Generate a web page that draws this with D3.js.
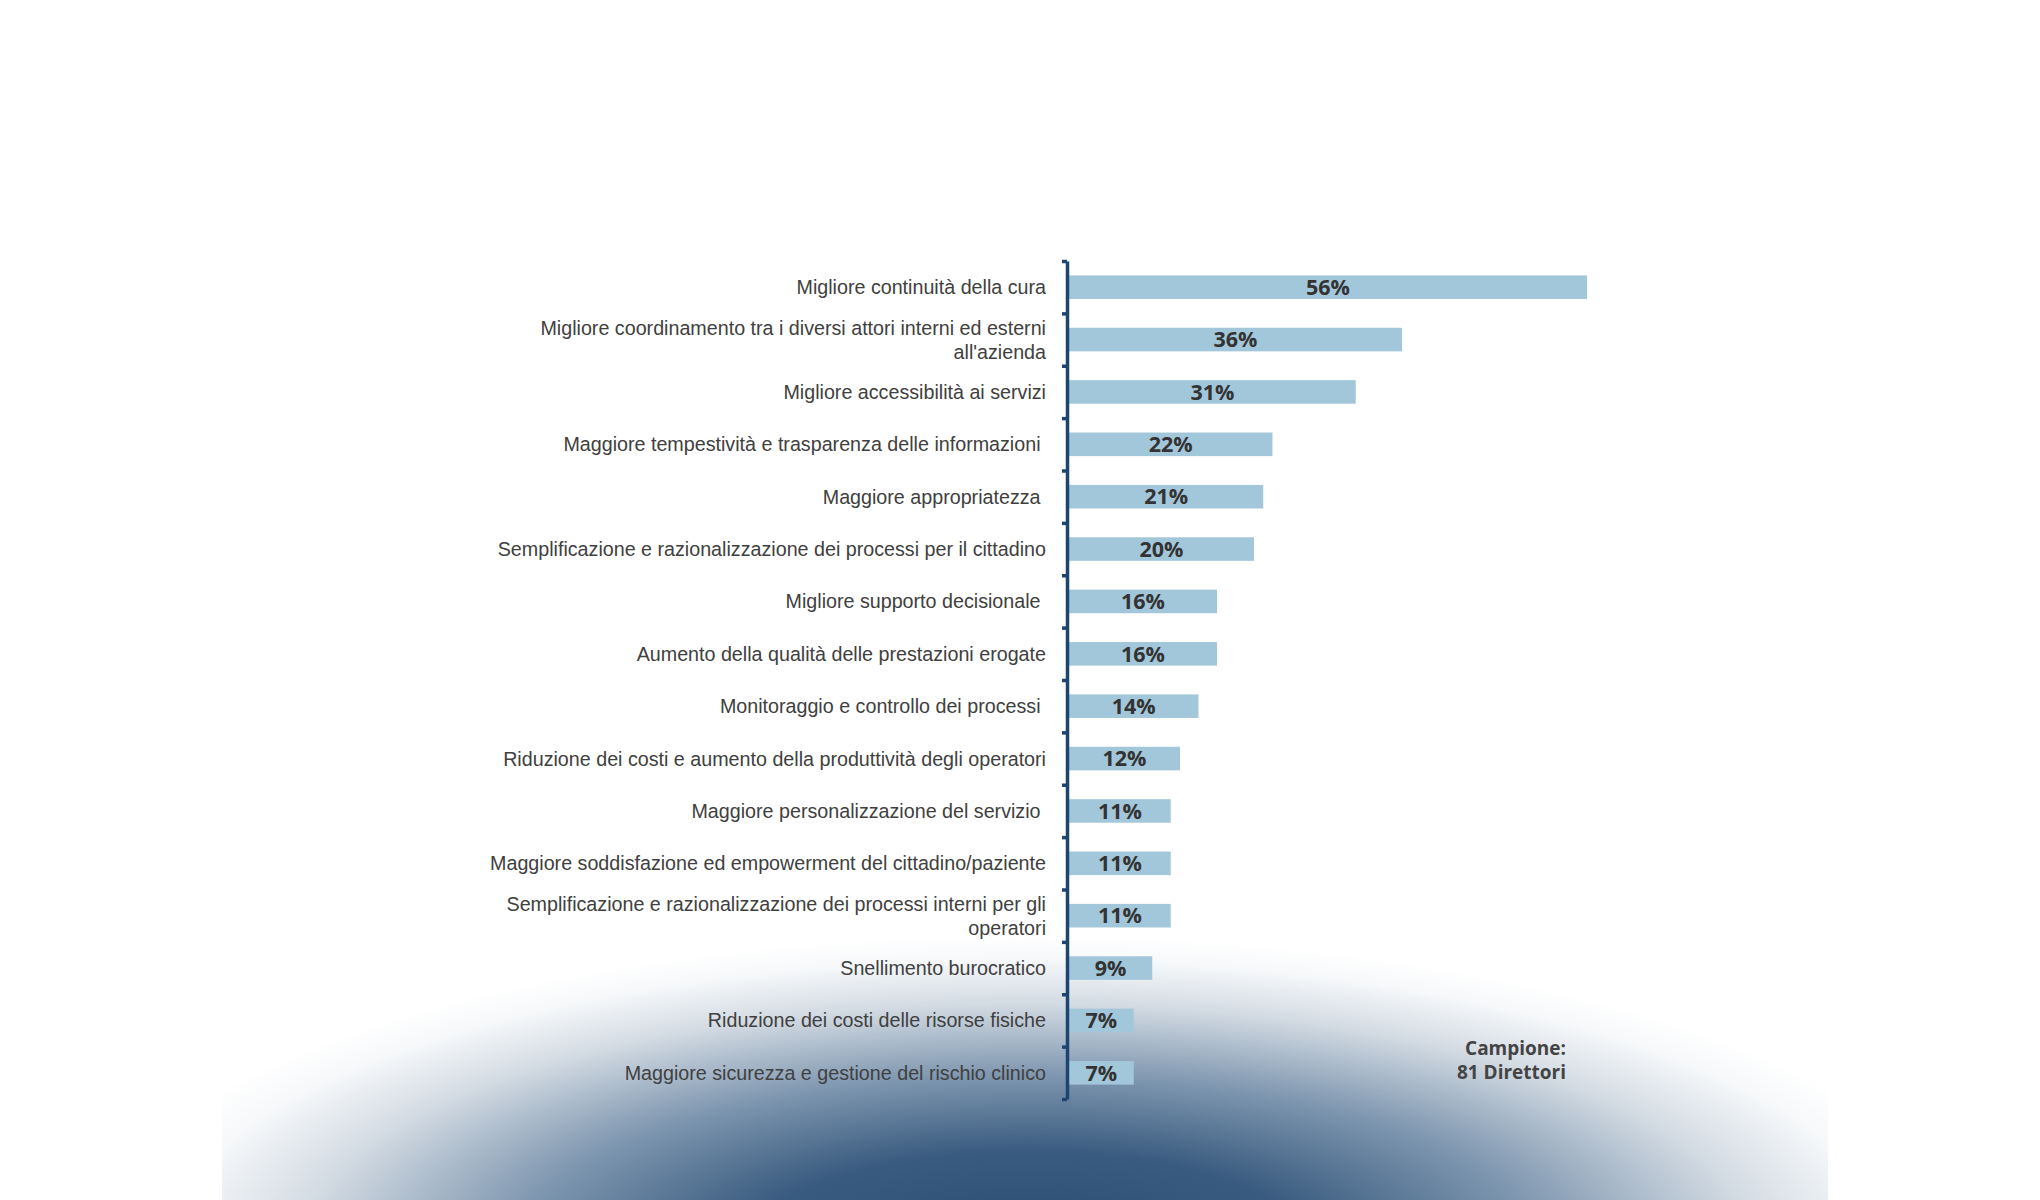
<!DOCTYPE html>
<html>
<head>
<meta charset="utf-8">
<script src="https://cdn.jsdelivr.net/npm/d3@7"></script>
<style>
  html, body { margin: 0; padding: 0; background: #ffffff; }
  svg { display: block; }
</style>
</head>
<body>
<script>
// ---- DATA ----
const categories = [
  "Migliore continuità della cura",
  "Migliore coordinamento tra i diversi attori interni ed esterni|all'azienda",
  "Migliore accessibilità ai servizi",
  "Maggiore tempestività e trasparenza delle informazioni ",
  "Maggiore appropriatezza ",
  "Semplificazione e razionalizzazione dei processi per il cittadino",
  "Migliore supporto decisionale ",
  "Aumento della qualità delle prestazioni erogate",
  "Monitoraggio e controllo dei processi ",
  "Riduzione dei costi e aumento della produttività degli operatori",
  "Maggiore personalizzazione del servizio ",
  "Maggiore soddisfazione ed empowerment del cittadino/paziente",
  "Semplificazione e razionalizzazione dei processi interni per gli|operatori",
  "Snellimento burocratico",
  "Riduzione dei costi delle risorse fisiche",
  "Maggiore sicurezza e gestione del rischio clinico"
];
const values = [56, 36, 31, 22, 21, 20, 16, 16, 14, 12, 11, 11, 11, 9, 7, 7];
const noteLines = ["Campione:", "81 Direttori"];

// ---- LAYOUT ----
const W = 2040, H = 1200;
const svg = d3.select("body").append("svg").attr("width", W).attr("height", H);

// background radial glow at the bottom
const defs = svg.append("defs");
const grad = defs.append("radialGradient")
  .attr("id", "glow")
  .attr("gradientUnits", "userSpaceOnUse")
  .attr("cx", 0).attr("cy", 0).attr("r", 1)
  .attr("gradientTransform", "translate(1027,1245) scale(930,310)");
[[0, "#2a4c70"], [0.3, "#395b7f"], [0.55, "#7f97b0"], [0.78, "#d3dbe3"], [0.92, "#f6f8fa"], [1, "#ffffff"]]
  .forEach(([o, c]) => grad.append("stop").attr("offset", o).attr("stop-color", c));
svg.append("rect")
  .attr("x", 222).attr("y", 900).attr("width", 1606).attr("height", 300)
  .attr("fill", "url(#glow)");

const axisX = 1067;
const y = d3.scaleBand()
  .domain(d3.range(categories.length))
  .range([261, 1099])
  .paddingInner(0.55)
  .paddingOuter(0.275);
const x = d3.scaleLinear().domain([0, 56]).range([axisX + 2, 1587]);

// bars
svg.append("g").selectAll("rect")
  .data(values)
  .join("rect")
  .attr("x", x(0))
  .attr("y", (d, i) => y(i))
  .attr("width", d => x(d) - x(0))
  .attr("height", y.bandwidth())
  .attr("fill", "#a3c7da");

// value labels
svg.append("g").selectAll("text")
  .data(values)
  .join("text")
  .attr("x", d => (x(0) + x(d)) / 2)
  .attr("y", (d, i) => y(i) + y.bandwidth() / 2)
  .attr("dy", "0.36em")
  .attr("text-anchor", "middle")
  .attr("font-family", "'Open Sans', sans-serif")
  .attr("font-weight", "bold")
  .attr("font-size", 21.5)
  .attr("fill", "#333333")
  .text(d => d + "%");

// axis with ticks at band boundaries
const yb = d3.scaleLinear().domain([0, categories.length]).range([261, 1099]);
const axis = svg.append("g")
  .attr("transform", `translate(${axisX},0)`)
  .call(d3.axisLeft(yb).tickValues(d3.range(categories.length + 1)).tickFormat("").tickSize(5).tickSizeOuter(0));
axis.select(".domain").attr("stroke", "#1e4470").attr("stroke-width", 3.5);
axis.selectAll(".tick line").attr("stroke", "#1e4470").attr("stroke-width", 3.5);

// category labels
const labelX = 1046;
const labels = svg.append("g").selectAll("text")
  .data(categories)
  .join("text")
  .attr("x", labelX)
  .attr("y", (d, i) => y(i) + y.bandwidth() / 2)
  .attr("text-anchor", "end")
  .attr("font-family", "'Liberation Sans', Arial, sans-serif")
  .attr("font-size", 19.7)
  .attr("fill", "#404040")
  .style("white-space", "pre");
labels.each(function(d) {
  const lines = d.split("|");
  const t = d3.select(this);
  const lh = 24;
  lines.forEach((ln, k) => {
    t.append("tspan")
      .attr("x", labelX)
      .attr("dy", k === 0 ? ((-(lines.length - 1) * lh / 2) + 7) : lh)
      .text(ln);
  });
});

// note
svg.append("g").selectAll("text")
  .data(noteLines)
  .join("text")
  .attr("x", 1566)
  .attr("y", (d, i) => 1055 + i * 24)
  .attr("text-anchor", "end")
  .attr("font-family", "'Open Sans', sans-serif")
  .attr("font-weight", "bold")
  .attr("font-size", 19)
  .attr("fill", "#444444")
  .text(d => d);
</script>
</body>
</html>
